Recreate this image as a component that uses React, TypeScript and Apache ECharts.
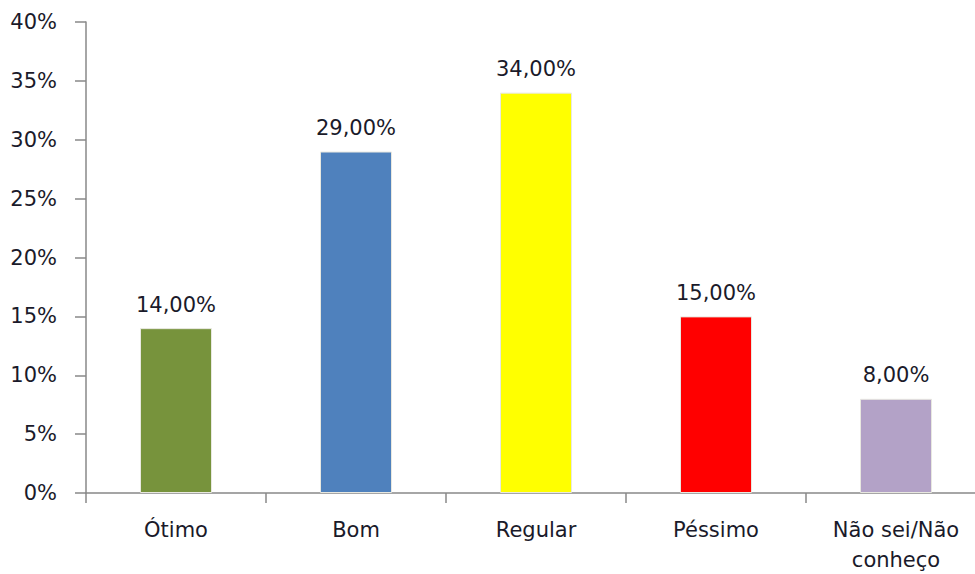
import React, { useEffect, useRef } from "react";
import * as echarts from "echarts";

const categories = ["Ótimo", "Bom", "Regular", "Péssimo", "Não sei/Não\nconheço"];
const values = [14, 29, 34, 15, 8];
const colors = ["#77933C", "#4F81BD", "#FFFF00", "#FF0000", "#B3A2C7"];
const yTicks = [0, 5, 10, 15, 20, 25, 30, 35, 40];

export default function App() {
  const ref = useRef<HTMLDivElement>(null);
  useEffect(() => {
    const chart = echarts.init(ref.current!, null, { renderer: "svg" });
    const font = "DejaVu Sans";
    chart.setOption({
      animation: false,
      grid: { left: 86, top: 22, width: 900, bottom: 81, outerBoundsMode: "none", containLabel: false },
      xAxis: {
        type: "category",
        data: categories,
        axisLine: { lineStyle: { color: "#888888", width: 1.5 } },
        axisTick: { show: true, length: 10, lineStyle: { color: "#888888", width: 1.5 } },
        axisLabel: {
          fontFamily: font,
          fontSize: 21,
          color: "#1a1a2a",
          margin: 22,
          lineHeight: 30,
          interval: 0,
        },
      },
      yAxis: {
        type: "value",
        min: yTicks[0],
        max: yTicks[yTicks.length - 1],
        interval: 5,
        splitLine: { show: false },
        axisLine: { show: true, lineStyle: { color: "#888888", width: 1.5 } },
        axisTick: { show: true, length: 11, lineStyle: { color: "#888888", width: 1.5 } },
        axisLabel: {
          fontFamily: font,
          fontSize: 21,
          color: "#1a1a2a",
          margin: 29,
          formatter: (v: number) => `${v}%`,
        },
      },
      series: [
        {
          type: "bar",
          barWidth: 72,
          data: values.map((v, i) => ({
            value: v,
            itemStyle: { color: colors[i], borderColor: "#e8e8e0", borderWidth: 1 },
          })),
          label: {
            show: true,
            position: "top",
            distance: 13,
            fontFamily: font,
            fontSize: 21,
            color: "#1a1a2a",
            formatter: (p: any) => `${p.value.toFixed(2).replace(".", ",")}%`,
          },
        },
      ],
    });
    return () => chart.dispose();
  }, []);
  return <div ref={ref} style={{ width: 975, height: 574, position: "absolute", left: 0, top: 0, background: "#fff" }} />;
}
